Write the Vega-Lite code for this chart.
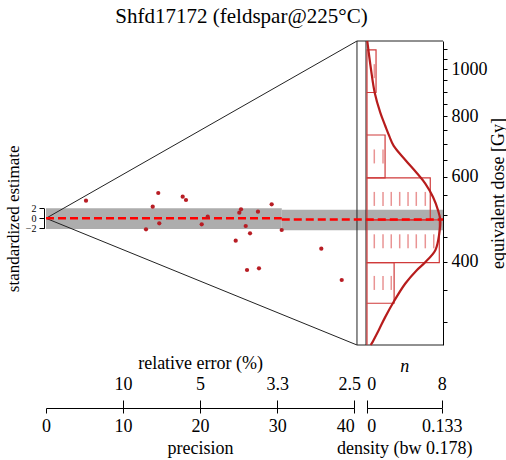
{
  "$schema": "https://vega.github.io/schema/vega-lite/v6.json",
  "width": 397,
  "height": 304,
  "autosize": {"type": "none"},
  "padding": {"left": 46, "top": 41, "right": 63, "bottom": 115},
  "background": "white",
  "title": {"text": "Shfd17172 (feldspar@225°C)", "font": "Liberation Serif", "fontSize": 21, "fontWeight": "normal", "color": "black", "offset": 10, "dx": -3, "frame": "group", "anchor": "middle"},
  "config": {
    "view": {"stroke": null},
    "axis": {"labelFont": "Liberation Serif", "titleFont": "Liberation Serif", "labelColor": "black", "titleColor": "black", "domainColor": "black", "tickColor": "black", "labelFontSize": 18, "titleFontSize": 18, "titleFontWeight": "normal", "grid": false, "labelFlush": false, "labelOverlap": false}
  },
  "datasets": {
    "band": [
      {"p1": 0, "p2": 30.6, "s1": -2.14, "s2": 2.0},
      {"p1": 30.6, "p2": 51.53, "s1": -2.4, "s2": 1.7}
    ],
    "centre": [
      {"p1": 0, "p2": 30.6, "s": 0},
      {"p1": 30.6, "p2": 51.53, "s": -0.25}
    ],
    "frame": [
      {"p1": 0, "s1": 0, "p2": 40.36, "s2": 35.46},
      {"p1": 0, "s1": 0, "p2": 40.36, "s2": -25.34},
      {"p1": 40.36, "s1": -25.34, "p2": 40.36, "s2": 35.46},
      {"p1": 40.36, "s1": 35.46, "p2": 51.53, "s2": 35.46},
      {"p1": 40.36, "s1": -25.34, "p2": 51.53, "s2": -25.34},
      {"p1": 41.53, "s1": -25.34, "p2": 41.53, "s2": 35.46}
    ],
    "pts": [
      {"p": 5.19, "s": 3.52}, {"p": 14.57, "s": 5.06}, {"p": 13.85, "s": 2.32},
      {"p": 17.74, "s": 4.32}, {"p": 18.17, "s": 3.66}, {"p": 12.98, "s": -2.2},
      {"p": 14.7, "s": -1.0}, {"p": 20.21, "s": -1.2}, {"p": 20.99, "s": 0.32},
      {"p": 25.31, "s": 1.8}, {"p": 25.09, "s": 1.12}, {"p": 27.51, "s": 1.32},
      {"p": 29.29, "s": 2.8}, {"p": 25.92, "s": -1.54}, {"p": 26.48, "s": -3.0},
      {"p": 24.62, "s": -4.48}, {"p": 30.59, "s": -2.34}, {"p": 35.73, "s": -6.08},
      {"p": 26.09, "s": -10.34}, {"p": 27.64, "s": -10.0}, {"p": 38.38, "s": -12.34}
    ],
    "hist": [
      {"lo": 896, "hi": 1098, "n": 1},
      {"lo": 732, "hi": 896, "n": 0},
      {"lo": 597, "hi": 732, "n": 2},
      {"lo": 488.5, "hi": 597, "n": 7},
      {"lo": 398.7, "hi": 488.5, "n": 8},
      {"lo": 328.6, "hi": 398.7, "n": 3},
      {"lo": 269.4, "hi": 328.6, "n": 0}
    ],
    "dashes": [
      {"dose": 991.9, "pos": 0.81},
      {"dose": 661, "pos": 0.81}, {"dose": 661, "pos": 1.74},
      {"dose": 540, "pos": 0.81}, {"dose": 540, "pos": 1.74}, {"dose": 540, "pos": 2.62}, {"dose": 540, "pos": 3.52}, {"dose": 540, "pos": 4.41}, {"dose": 540, "pos": 5.29}, {"dose": 540, "pos": 6.25},
      {"dose": 441.3, "pos": 0.81}, {"dose": 441.3, "pos": 1.74}, {"dose": 441.3, "pos": 2.62}, {"dose": 441.3, "pos": 3.52}, {"dose": 441.3, "pos": 4.41}, {"dose": 441.3, "pos": 5.29}, {"dose": 441.3, "pos": 6.25}, {"dose": 441.3, "pos": 7.15},
      {"dose": 362, "pos": 0.81}, {"dose": 362, "pos": 1.74}, {"dose": 362, "pos": 2.62}
    ],
    "dens": [
      {"dose": 1145, "d": 0.001}, {"dose": 1001, "d": 0.0076}, {"dose": 895, "d": 0.0142},
      {"dose": 814, "d": 0.0241}, {"dose": 764, "d": 0.033}, {"dose": 728, "d": 0.0401},
      {"dose": 695, "d": 0.0479}, {"dose": 650, "d": 0.0685}, {"dose": 610, "d": 0.0892},
      {"dose": 581, "d": 0.1039}, {"dose": 545, "d": 0.1176}, {"dose": 512, "d": 0.1264},
      {"dose": 488, "d": 0.1305}, {"dose": 458, "d": 0.1287}, {"dose": 423, "d": 0.1217},
      {"dose": 398.6, "d": 0.1029}, {"dose": 385, "d": 0.0892}, {"dose": 361, "d": 0.0685},
      {"dose": 331, "d": 0.0479}, {"dose": 308, "d": 0.033}, {"dose": 289, "d": 0.0213},
      {"dose": 273.5, "d": 0.0106}, {"dose": 269.4, "d": 0.007}
    ]
  },
  "layer": [
    {
      "data": {"name": "band"},
      "mark": {"type": "rect", "color": "#ADADAD"},
      "encoding": {
        "x": {"field": "p1", "type": "quantitative", "scale": {"domain": [0, 40], "range": [0, 308.2], "nice": false, "zero": false},
          "axis": {"orient": "bottom", "offset": 63, "values": [0, 10, 20, 30, 40], "format": "d", "tickSize": 5, "labelPadding": 4, "title": "precision", "titlePadding": 4,
            "labelAlign": {"condition": {"test": "datum.value == 40", "value": "right"}, "value": "center"}}},
        "x2": {"field": "p2"},
        "y": {"field": "s1", "type": "quantitative", "scale": {"domain": [-2, 2], "range": [187.3, 167.3], "nice": false, "zero": false},
          "axis": {"orient": "left", "offset": 2, "values": [-2, 0, 2], "format": "d", "tickSize": 5, "labelPadding": 3, "labelFontSize": 10, "title": "standardized estimate", "titleFontSize": 17, "titlePadding": 3}},
        "y2": {"field": "s2"}
      }
    },
    {
      "data": {"name": "frame"},
      "mark": {"type": "rule", "color": "#222222", "strokeWidth": 1},
      "encoding": {
        "x": {"field": "p1", "type": "quantitative", "scale": {"domain": [0, 40], "range": [0, 308.2], "nice": false, "zero": false}, "axis": null},
        "x2": {"field": "p2"},
        "y": {"field": "s1", "type": "quantitative", "scale": {"domain": [-2, 2], "range": [187.3, 167.3], "nice": false, "zero": false}, "axis": null},
        "y2": {"field": "s2"}
      }
    },
    {
      "data": {"name": "hist"},
      "mark": {"type": "rect", "fill": "transparent", "stroke": "#D03A3A", "strokeWidth": 1.2},
      "encoding": {
        "x": {"field": "n", "type": "quantitative", "scale": {"domain": [0, 8], "range": [321, 393.3], "nice": false, "zero": false}, "axis": null},
        "x2": {"datum": 0},
        "y": {"field": "lo", "type": "quantitative", "scale": {"type": "log", "domain": [269.4, 1145], "nice": false},
          "axis": {"orient": "right", "values": [300, 350, 400, 450, 500, 550, 600, 650, 700, 750, 800, 850, 900, 950, 1000, 1050, 1100], "format": "d",
            "labelExpr": "(datum.value == 400 || datum.value == 600 || datum.value == 800 || datum.value == 1000) ? datum.label : ''",
            "tickSize": 4, "labelPadding": 4, "title": "equivalent dose [Gy]", "titleAngle": -90, "titleBaseline": "top", "titlePadding": 2}},
        "y2": {"field": "hi"}
      }
    },
    {
      "data": {"name": "dashes"},
      "mark": {"type": "tick", "orient": "vertical", "size": 14, "thickness": 1.5, "color": "#E06666"},
      "encoding": {
        "x": {"field": "pos", "type": "quantitative", "scale": {"domain": [0, 8], "range": [320.7, 395.7], "nice": false, "zero": false},
          "axis": {"orient": "top", "offset": -367, "values": [0, 8], "format": "d", "tickSize": 8, "labelPadding": 6.5, "domain": false, "title": "n", "titleFontStyle": "italic", "titlePadding": 0,
            "labelAlign": {"condition": {"test": "datum.value == 0", "value": "left"}, "value": "center"}}},
        "y": {"field": "dose", "type": "quantitative", "scale": {"type": "log", "domain": [269.4, 1145], "nice": false}, "axis": null}
      }
    },
    {
      "data": {"name": "centre"},
      "mark": {"type": "rule", "color": "#FF0000", "strokeWidth": 2.5, "strokeDash": [8, 4]},
      "encoding": {
        "x": {"field": "p1", "type": "quantitative", "scale": {"domain": [0, 40], "range": [0, 308.2], "nice": false, "zero": false},
          "axis": {"orient": "top", "offset": -367, "values": [10, 20, 30, 40], "tickSize": 8, "labelPadding": 6.5, "domain": false,
            "labelExpr": "datum.value == 10 ? '10' : datum.value == 20 ? '5' : datum.value == 30 ? '3.3' : '2.5'",
            "title": "relative error (%)", "titlePadding": 3,
            "labelOffset": {"condition": {"test": "datum.value == 40", "value": -5}, "value": 0}}},
        "x2": {"field": "p2"},
        "y": {"field": "s", "type": "quantitative", "scale": {"domain": [-2, 2], "range": [187.3, 167.3], "nice": false, "zero": false}, "axis": null}
      }
    },
    {
      "data": {"name": "pts"},
      "mark": {"type": "circle", "color": "#B81D24", "size": 18, "opacity": 1},
      "encoding": {
        "x": {"field": "p", "type": "quantitative", "scale": {"domain": [0, 40], "range": [0, 308.2], "nice": false, "zero": false},
          "axis": {"orient": "bottom", "offset": 58, "values": [40.49], "tickSize": 10, "labels": false, "domain": false, "title": null}},
        "y": {"field": "s", "type": "quantitative", "scale": {"domain": [-2, 2], "range": [187.3, 167.3], "nice": false, "zero": false}, "axis": null}
      }
    },
    {
      "data": {"name": "dens"},
      "mark": {"type": "line", "color": "#B71C1C", "strokeWidth": 2.2, "interpolate": "catmull-rom"},
      "encoding": {
        "x": {"field": "d", "type": "quantitative", "scale": {"domain": [0, 0.133], "range": [320.7, 395.7], "nice": false, "zero": false},
          "axis": {"orient": "bottom", "offset": 63, "values": [0, 0.133], "labelExpr": "datum.value == 0 ? '0' : '0.133'", "tickSize": 5, "labelPadding": 4, "title": "density (bw 0.178)", "titlePadding": 4,
            "labelAlign": {"condition": {"test": "datum.value == 0", "value": "left"}, "value": "center"}}},
        "y": {"field": "dose", "type": "quantitative", "scale": {"type": "log", "domain": [269.4, 1145], "nice": false}, "axis": null},
        "order": {"field": "dose", "type": "quantitative"}
      }
    }
  ],
  "resolve": {"scale": {"x": "independent", "y": "independent"}, "axis": {"x": "independent", "y": "independent"}}
}
